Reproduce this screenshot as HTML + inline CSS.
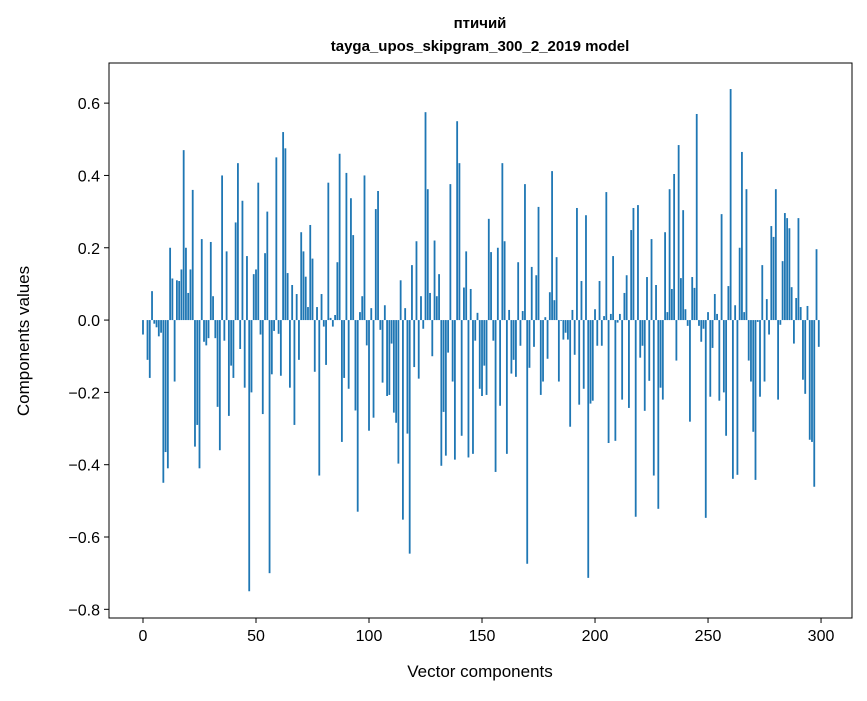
<!DOCTYPE html>
<html><head><meta charset="utf-8"><style>
body{margin:0;background:#fff;}
svg text{font-family:"Liberation Sans","DejaVu Sans",sans-serif;fill:#000;}
</style></head><body>
<svg id="chart" width="867" height="696" xmlns="http://www.w3.org/2000/svg">
<rect width="867" height="696" fill="#fff"/>
<text x="480" y="28" text-anchor="middle" font-size="15" font-weight="bold">птичий</text>
<text x="480" y="51" text-anchor="middle" font-size="15" font-weight="bold">tayga_upos_skipgram_300_2_2019 model</text>
<g id="bars"></g>
<g id="axes"></g>
<text x="480" y="677" text-anchor="middle" font-size="17">Vector components</text>
<text transform="translate(29,341) rotate(-90)" text-anchor="middle" font-size="17">Components values</text>
</svg>
<script>
const values = [-0.04,0,-0.11,-0.16,0.08,-0.01,-0.02,-0.045,-0.035,-0.45,-0.365,-0.41,0.2,0.115,-0.17,0.11,0.108,0.14,0.47,0.2,
0.075,0.14,0.36,-0.35,-0.29,-0.41,0.224,-0.06,-0.07,-0.05,0.216,0.066,-0.05,-0.24,-0.36,0.4,-0.057,0.19,-0.265,-0.126,
-0.16,0.27,0.434,-0.08,0.33,-0.187,0.177,-0.75,-0.2,0.127,0.14,0.38,-0.04,-0.26,0.185,0.3,-0.7,-0.15,-0.03,0.45,
-0.038,-0.154,0.52,0.475,0.13,-0.187,0.097,-0.29,0.072,-0.11,0.243,0.19,0.12,0.036,0.263,0.17,-0.143,0.036,-0.43,0.072,
-0.018,-0.124,0.38,0.006,-0.018,0.014,0.16,0.46,-0.337,-0.16,0.407,-0.19,0.337,0.235,-0.25,-0.53,0.022,0.066,0.4,-0.07,
-0.306,0.033,-0.27,0.307,0.357,-0.027,-0.173,0.041,-0.21,-0.207,-0.065,-0.256,-0.284,-0.397,0.11,-0.552,0.033,-0.314,-0.646,0.152,
-0.13,0.218,-0.162,0.066,-0.024,0.575,0.362,0.075,-0.1,0.22,0.066,0.127,-0.403,-0.254,-0.375,-0.09,0.376,-0.17,-0.386,0.55,
0.434,-0.32,0.09,0.19,-0.38,0.086,-0.37,-0.057,0.02,-0.19,-0.21,-0.126,-0.207,0.28,0.188,-0.057,-0.42,0.2,-0.237,0.434,
0.218,-0.37,0.028,-0.148,-0.11,-0.157,0.16,-0.071,0.025,0.376,-0.674,-0.132,0.147,-0.074,0.124,0.313,-0.207,-0.17,0.008,-0.107,
0.077,0.412,0.055,0.174,-0.17,-0.002,-0.054,-0.035,-0.054,-0.295,0.028,-0.096,0.31,-0.234,0.108,-0.19,0.29,-0.713,-0.231,-0.223,
0.03,-0.071,0.108,-0.071,0.011,0.354,-0.34,0.017,0.177,-0.334,-0.007,0.017,-0.22,0.075,0.124,-0.243,0.249,0.31,-0.544,0.318,
-0.104,-0.071,-0.251,0.119,-0.168,0.224,-0.43,0.097,-0.522,-0.187,-0.22,0.243,0.022,0.362,0.086,0.404,-0.112,0.484,0.116,0.304,
0.03,-0.016,-0.281,0.119,0.089,0.57,-0.016,-0.06,-0.024,-0.547,0.022,-0.212,-0.077,0.072,0.017,-0.223,0.293,-0.2,-0.32,0.094,
0.639,-0.439,0.041,-0.428,0.2,0.465,0.022,0.362,-0.112,-0.17,-0.309,-0.442,-0.005,-0.212,0.152,-0.17,0.058,-0.04,0.26,0.23,
0.362,-0.22,-0.013,0.163,0.296,0.282,0.254,0.091,-0.065,0.061,0.282,0.036,-0.165,-0.204,0.039,-0.331,-0.337,-0.461,0.196,-0.074];
const xTicks = [0,50,100,150,200,250,300];
const yTicks = [-0.8,-0.6,-0.4,-0.2,0.0,0.2,0.4,0.6];
const yTickLabels = ["\u22120.8","\u22120.6","\u22120.4","\u22120.2","0.0","0.2","0.4","0.6"];

const NS="http://www.w3.org/2000/svg";
const L=109,R=852,T=63,B=618;
const xMin=-15.04,xMax=313.7,yMin=-0.824,yMax=0.711;
const sx=v=>L+(v-xMin)/(xMax-xMin)*(R-L);
const sy=v=>B-(v-yMin)/(yMax-yMin)*(B-T);
function mk(tag,attrs,parent){const e=document.createElementNS(NS,tag);for(const k in attrs)e.setAttribute(k,attrs[k]);parent.appendChild(e);return e;}
const bars=document.getElementById('bars');
values.forEach((v,i)=>{
  const x0=sx(i-0.4),x1=sx(i+0.4);
  const y0=sy(Math.max(v,0)),y1=sy(Math.min(v,0));
  const r=mk('rect',{x:x0,y:y0,width:x1-x0,height:Math.max(y1-y0,0.01),fill:'#1f77b4'},bars);
  
  
});
const ax=document.getElementById('axes');
const frame=mk('rect',{x:L,y:T,width:R-L,height:B-T,fill:'none',stroke:'#000','stroke-width':1},ax);


xTicks.forEach(t=>{
  const x=sx(t);
  mk('line',{x1:x,x2:x,y1:B,y2:B+5,stroke:'#000'},ax);
  const tx=mk('text',{x:x,y:B+23,'text-anchor':'middle','font-size':16},ax);
  tx.textContent=t;
  
  
});
yTicks.forEach((t,i)=>{
  const y=sy(t);
  mk('line',{x1:L-5,x2:L,y1:y,y2:y,stroke:'#000'},ax);
  const tx=mk('text',{x:L-9,y:y+6,'text-anchor':'end','font-size':16},ax);
  tx.textContent=yTickLabels[i];
  
  
});
</script>
</body></html>
